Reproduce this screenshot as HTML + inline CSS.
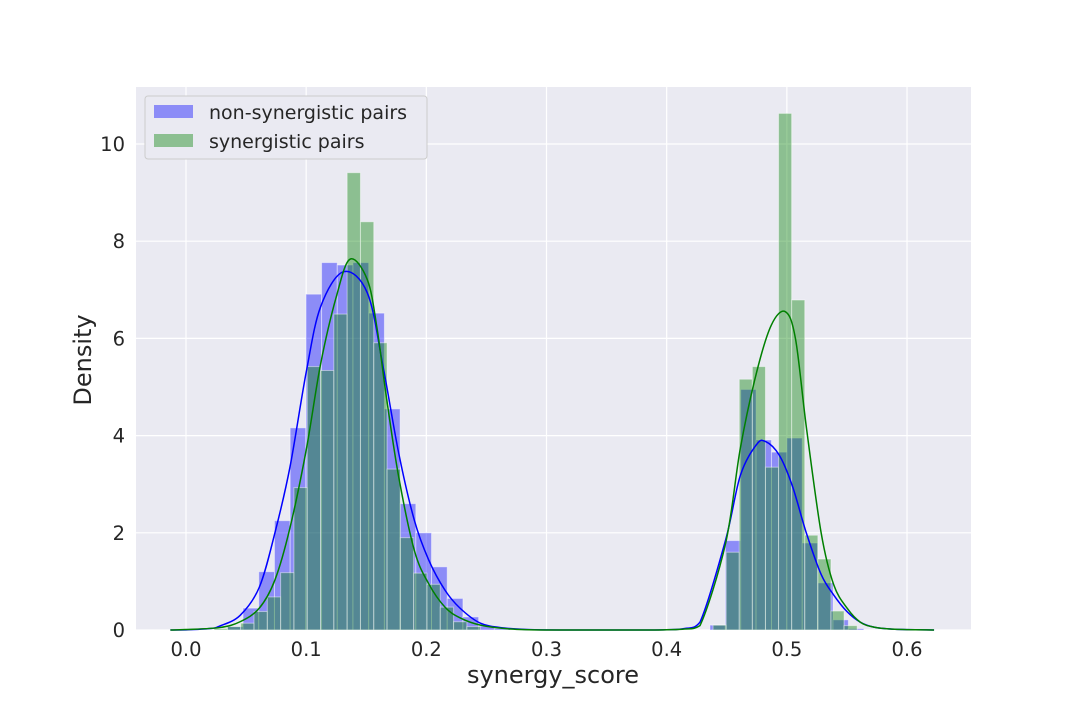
<!DOCTYPE html>
<html><head><meta charset="utf-8"><style>
body{margin:0;background:#fff}
svg{display:block;font-family:"DejaVu Sans","Liberation Sans",sans-serif}
</style></head><body>
<svg id="chart" width="1080" height="720" viewBox="0 0 1080 720" xmlns="http://www.w3.org/2000/svg">
<rect x="136" y="87" width="835" height="543" fill="#eaeaf2"/>
<g id="grid"></g>
<g id="bars"></g>
<g id="lines"></g>
<g id="ticks" font-size="19.5" fill="#262626"></g>
<text x="553" y="683" text-anchor="middle" font-size="24" fill="#262626">synergy_score</text>
<text transform="translate(91,360) rotate(-90)" text-anchor="middle" font-size="24" fill="#262626">Density</text>
<g>
<rect x="145" y="96" width="282" height="63" rx="3" fill="#eaeaf2" stroke="#cccccc"/>
<rect x="154" y="105" width="39" height="13" fill="rgba(0,0,255,0.4)"/>
<text x="209" y="119" font-size="19" fill="#262626">non-synergistic pairs</text>
<rect x="154" y="134" width="39" height="13" fill="rgba(0,128,0,0.4)"/>
<text x="209" y="148" font-size="19" fill="#262626">synergistic pairs</text>
</g>
</svg>
<script>
const xTicks=[0.0,0.1,0.2,0.3,0.4,0.5,0.6];
const xTickLabels=["0.0","0.1","0.2","0.3","0.4","0.5","0.6"];
const yTicks=[0,2,4,6,8,10];
const yTickLabels=["0","2","4","6","8","10"];
// histogram bins: cluster start, bin width, heights
const blueLeftStart=0.0344, blueWidth=0.01307;
const blueLeftHeights=[0.07,0.45,1.2,2.25,4.16,6.91,7.56,7.51,7.56,6.52,4.55,2.6,2.0,1.3,0.65,0.27,0.08,0.03];
const blueRightStart=0.436, blueRightWidth=0.0128;
const blueRightHeights=[0.1,1.84,4.95,3.91,3.66,3.95,1.79,0.97,0.21,0.03];
const greenLeftStart=0.0234, greenWidth=0.01107;
const greenLeftHeights=[0.03,0.07,0.14,0.38,0.68,1.18,2.93,5.42,5.34,6.5,9.41,8.4,5.91,3.31,1.9,1.17,0.94,0.47,0.17,0.07];
const greenRightStart=0.4386, greenRightWidth=0.0109;
const greenRightHeights=[0.1,1.6,5.16,5.42,3.35,10.63,6.79,1.95,1.46,0.39,0.09];
// KDE curves (x, density)
const blueKdeX=[-0.013,0.0,0.02,0.028,0.045,0.061,0.074,0.0865,0.1,0.112,0.131,0.151,0.164,0.177,0.19,0.202,0.2155,0.228,0.245,0.265,0.29,0.33,0.38,0.40,0.415,0.4277,0.449,0.4613,0.4746,0.4822,0.4936,0.5045,0.5163,0.5286,0.539,0.5504,0.5612,0.5725,0.59,0.6225];
const blueKdeY=[0,0.003,0.03,0.08,0.3,0.88,2.0,3.35,5.3,6.65,7.37,6.93,5.42,3.64,2.26,1.44,0.82,0.45,0.14,0.04,0.005,0,0,0.005,0.03,0.16,1.85,3.18,3.81,3.88,3.6,2.97,1.99,1.14,0.72,0.37,0.16,0.06,0.015,0];
const greenKdeX=[-0.013,0.0,0.028,0.045,0.061,0.074,0.0865,0.1,0.112,0.125,0.1365,0.151,0.159,0.167,0.177,0.19,0.202,0.2155,0.228,0.245,0.27,0.3,0.38,0.40,0.415,0.4277,0.449,0.4613,0.4746,0.487,0.4987,0.5072,0.5163,0.5286,0.539,0.5504,0.5612,0.5725,0.59,0.6225];
const greenKdeY=[0,0.01,0.05,0.17,0.45,1.03,2.1,3.7,5.47,6.85,7.63,7.2,6.2,4.75,3.15,1.64,0.95,0.47,0.25,0.1,0.02,0,0,0.005,0.02,0.09,1.78,3.74,5.28,6.27,6.55,5.99,4.16,1.99,0.93,0.44,0.16,0.06,0.015,0];

const NS='http://www.w3.org/2000/svg';
const X0=136,X1=971,Y0=630,Y1=87;
function sx(v){return 186+v*1201.7;}
function sy(v){return 630-v*48.6;}
function mk(tag,attrs,parent){const e=document.createElementNS(NS,tag);for(const k in attrs)e.setAttribute(k,attrs[k]);parent.appendChild(e);return e;}
const grid=document.getElementById('grid'),ticks=document.getElementById('ticks');
xTicks.forEach((t,i)=>{
  const l=mk('line',{x1:sx(t),x2:sx(t),y1:Y1,y2:Y0,stroke:'#fff','stroke-width':1.2},grid);
  
  
  const tx=mk('text',{x:sx(t),y:656,'text-anchor':'middle'},ticks);
  tx.textContent=xTickLabels[i];
  
  
});
yTicks.forEach((t,i)=>{
  const l=mk('line',{x1:X0,x2:X1,y1:sy(t),y2:sy(t),stroke:'#fff','stroke-width':1.2},grid);
  
  
  const tx=mk('text',{x:125,y:sy(t)+7,'text-anchor':'end'},ticks);
  tx.textContent=yTickLabels[i];
  
  
});
const bars=document.getElementById('bars');
function drawBars(start,w,hs,fill,name){
  hs.forEach((h,i)=>{
    const a=sx(start+i*w),b=sx(start+(i+1)*w);
    const r=mk('rect',{x:a,y:sy(h),width:b-a,height:sy(0)-sy(h),fill:fill,stroke:'rgba(255,255,255,0.45)','stroke-width':1},bars);
    
    
  });
}
drawBars(blueLeftStart,blueWidth,blueLeftHeights,'rgba(0,0,255,0.4)','bar-non-synergistic');
drawBars(blueRightStart,blueRightWidth,blueRightHeights,'rgba(0,0,255,0.4)','bar-non-synergistic');
drawBars(greenLeftStart,greenWidth,greenLeftHeights,'rgba(0,128,0,0.4)','bar-synergistic');
drawBars(greenRightStart,greenRightWidth,greenRightHeights,'rgba(0,128,0,0.4)','bar-synergistic');
const lines=document.getElementById('lines');
function drawLine(xs,ys,color,name){
  const pts=xs.map((x,i)=>[sx(x),sy(ys[i])]);
  let d='M'+pts[0][0]+','+pts[0][1];
  for(let i=0;i<pts.length-1;i++){
    const p0=pts[i-1]||pts[i],p1=pts[i],p2=pts[i+1],p3=pts[i+2]||p2;
    const c1x=p1[0]+(p2[0]-p0[0])/6,c1y=p1[1]+(p2[1]-p0[1])/6;
    const c2x=p2[0]-(p3[0]-p1[0])/6,c2y=p2[1]-(p3[1]-p1[1])/6;
    d+=' C'+c1x+','+Math.min(c1y,630)+' '+c2x+','+Math.min(c2y,630)+' '+p2[0]+','+p2[1];
  }
  const p=mk('path',{d:d,fill:'none',stroke:color,'stroke-width':1.5},lines);
  
  
}
drawLine(blueKdeX,blueKdeY,'#0000ff','kde-non-synergistic');
drawLine(greenKdeX,greenKdeY,'#008000','kde-synergistic');
</script>
</body></html>
